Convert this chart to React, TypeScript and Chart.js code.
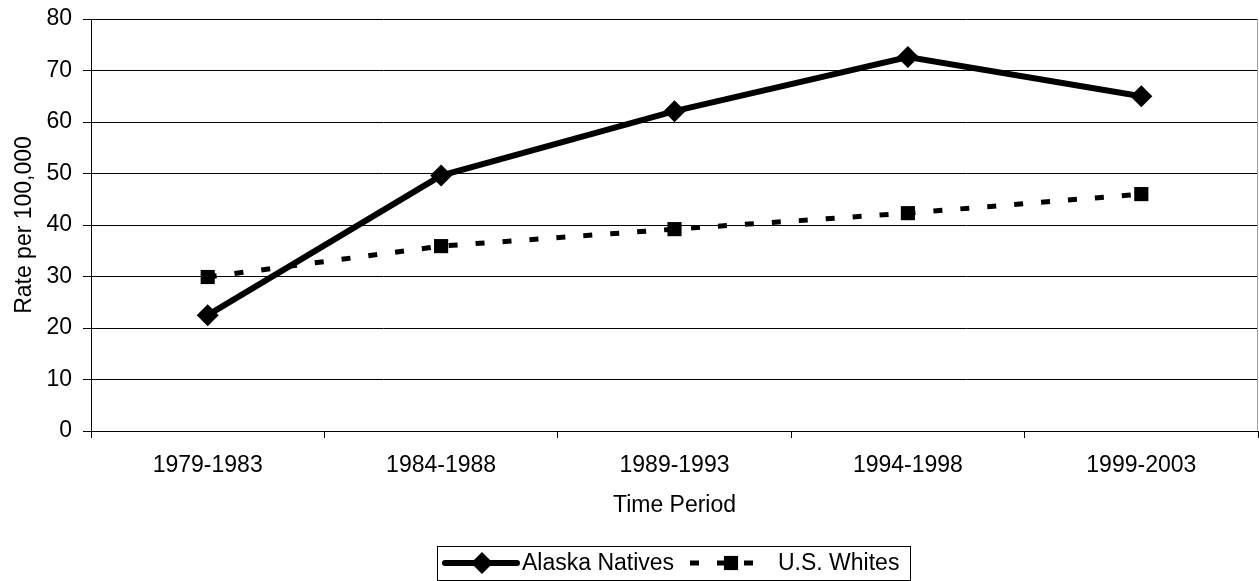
import React, { useEffect, useRef } from 'react';
import { Chart, registerables } from 'chart.js';

Chart.register(...registerables);

const categories = ['1979-1983', '1984-1988', '1989-1993', '1994-1998', '1999-2003'];
const alaskaNatives = [22.5, 49.6, 62.1, 72.6, 65.0];
const usWhites = [29.9, 35.9, 39.2, 42.3, 46.0];
const seriesNames = ['Alaska Natives', 'U.S. Whites'];
const yAxisTitle = 'Rate per 100,000';
const xAxisTitle = 'Time Period';

const FONT = '"Liberation Sans", Arial, sans-serif';
const FS = 23;

const decorPlugin = {
  id: 'decor',
  afterDraw(chart: any) {
    const { ctx, chartArea: a } = chart;
    ctx.save();
    // right border of plot area
    ctx.strokeStyle = '#a0a0a0';
    ctx.lineWidth = 1;
    ctx.beginPath();
    ctx.moveTo(a.right - 0.5, a.top);
    ctx.lineTo(a.right - 0.5, a.bottom);
    ctx.stroke();

    // legend
    const bx = 437, by = 546, bw = 473, bh = 34;
    ctx.strokeStyle = '#000';
    ctx.lineWidth = 1;
    ctx.strokeRect(bx + 0.5, by + 0.5, bw, bh);
    const cy = by + bh / 2;
    ctx.font = `${FS}px ${FONT}`;
    ctx.fillStyle = '#000';
    ctx.textBaseline = 'middle';
    ctx.textAlign = 'left';

    const ds0 = chart.data.datasets[0];
    const ds1 = chart.data.datasets[1];

    // Alaska Natives sample
    ctx.strokeStyle = ds0.borderColor;
    ctx.lineWidth = ds0.borderWidth;
    ctx.lineCap = 'round';
    ctx.setLineDash([]);
    ctx.beginPath();
    ctx.moveTo(445, cy);
    ctx.lineTo(517, cy);
    ctx.stroke();
    ctx.lineCap = 'butt';
    const r0 = ds0.pointRadius;
    ctx.fillStyle = '#000';
    ctx.beginPath();
    ctx.moveTo(482 - r0, cy);
    ctx.lineTo(482, cy - r0);
    ctx.lineTo(482 + r0, cy);
    ctx.lineTo(482, cy + r0);
    ctx.closePath();
    ctx.fill();
    ctx.fillText(ds0.label, 522, cy + 1);

    // U.S. Whites sample
    ctx.strokeStyle = ds1.borderColor;
    ctx.lineWidth = ds1.borderWidth;
    ctx.setLineDash(ds1.borderDash);
    ctx.beginPath();
    ctx.moveTo(690, cy);
    ctx.lineTo(753, cy);
    ctx.stroke();
    ctx.setLineDash([]);
    const s = ds1.pointRadius * Math.SQRT1_2;
    ctx.fillRect(731 - s, cy - s, 2 * s, 2 * s);
    ctx.fillText(ds1.label, 778, cy + 1);
    ctx.restore();
  },
};

export default function App() {
  const ref = useRef<HTMLCanvasElement>(null);
  useEffect(() => {
    if (!ref.current) return;
    const chart = new Chart(ref.current, {
      type: 'line',
      data: {
        labels: categories,
        datasets: [
          {
            label: seriesNames[0],
            data: alaskaNatives,
            borderColor: '#000',
            backgroundColor: '#000',
            borderWidth: 6,
            pointStyle: 'rectRot',
            pointRadius: 11,
            pointBorderWidth: 0,
            pointBackgroundColor: '#000',
            tension: 0,
          },
          {
            label: seriesNames[1],
            data: usWhites,
            borderColor: '#000',
            backgroundColor: '#000',
            borderWidth: 5,
            borderDash: [9, 18],
            pointStyle: 'rect',
            pointRadius: 10,
            pointBorderWidth: 0,
            pointBackgroundColor: '#000',
            tension: 0,
          },
        ],
      },
      options: {
        animation: false,
        responsive: false,
        maintainAspectRatio: false,
        layout: { autoPadding: false, padding: { top: 19, right: 1, left: 0, bottom: 35 } },
        plugins: {
          legend: { display: false },
          tooltip: { enabled: false },
        },
        scales: {
          x: {
            type: 'category',
            offset: true,
            grid: {
              display: true,
              drawOnChartArea: false,
              drawTicks: true,
              tickLength: 7,
              offset: true,
              color: '#000',
            },
            border: { display: true, color: '#000', width: 1 },
            ticks: {
              color: '#000',
              font: { family: FONT, size: FS },
              padding: 14,
              maxRotation: 0,
              autoSkip: false,
            },
            title: {
              display: true,
              text: xAxisTitle,
              color: '#000',
              font: { family: FONT, size: FS },
              padding: { top: 0, bottom: 27 },
            },
            afterFit: (scale: any) => {
              scale.height = 115;
              scale.paddingLeft = 0;
              scale.paddingRight = 0;
            },
          },
          y: {
            min: 0,
            max: 80,
            ticks: {
              stepSize: 10,
              color: '#000',
              font: { family: FONT, size: FS },
              padding: 11,
            },
            grid: {
              display: true,
              color: '#000',
              lineWidth: 1,
              drawTicks: true,
              tickLength: 8,
            },
            border: { display: true, color: '#000', width: 1 },
            title: {
              display: true,
              text: yAxisTitle,
              color: '#000',
              font: { family: FONT, size: FS },
              padding: { top: 11, bottom: 0 },
            },
            afterFit: (scale: any) => {
              scale.width = 91;
              scale.paddingTop = 0;
              scale.paddingBottom = 0;
            },
          },
        },
      },
      plugins: [decorPlugin],
    });
    return () => chart.destroy();
  }, []);

  return (
    <div style={{ position: 'fixed', left: 0, top: 0, width: 1259, height: 581, background: '#fff' }}>
      <canvas ref={ref} width={1259} height={581} style={{ display: 'block' }} />
    </div>
  );
}
